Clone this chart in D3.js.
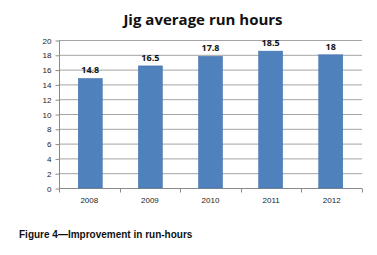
<!DOCTYPE html>
<html><head><meta charset="utf-8">
<script src="https://cdn.jsdelivr.net/npm/d3@7"></script>
<style>body{margin:0;background:#fff}svg{display:block}</style>
</head><body>
<svg id="c" width="377" height="255"></svg>
<script>
const categories = ["2008","2009","2010","2011","2012"];
const values = [14.8, 16.5, 17.8, 18.5, 18];
const valueLabels = ["14.8","16.5","17.8","18.5","18"];
const yTicks = [0,2,4,6,8,10,12,14,16,18,20];
const title = "Jig average run hours";
const caption = "Figure 4\u2014Improvement in run-hours";

const svg = d3.select("#c");
const pLeft = 59, pRight = 362, pTop = 40, pBottom = 188;
const x = d3.scaleBand().domain(categories).range([pLeft, pRight]).paddingInner(0.6).paddingOuter(0.32);
const xb = d3.scaleBand().domain(categories).range([pLeft, pRight]);
const y = d3.scaleLinear().domain([0, 20]).range([pBottom, pTop]);

svg.append("text").attr("x", 203).attr("y", 25).attr("text-anchor","middle")
  .attr("font-family","Open Sans, sans-serif").attr("font-weight","bold").attr("font-size",15)
  .attr("fill","#111").text(title);

// gridlines
svg.append("g").selectAll("line").data(yTicks.filter(d=>d>0)).join("line")
  .attr("x1", pLeft).attr("x2", pRight).attr("y1", d=>y(d)+0.5).attr("y2", d=>y(d)+0.5)
  .attr("stroke","#a3a3a3").attr("stroke-width",1);

// y axis
const ya = svg.append("g").attr("transform",`translate(${pLeft+0.5},0.5)`)
  .call(d3.axisLeft(y).tickValues(yTicks).tickSize(4).tickPadding(4));
ya.select(".domain").attr("stroke","#8a8a8a").attr("d",`M0,${pTop}V${pBottom}`);
ya.selectAll(".tick line").attr("stroke","#8a8a8a");
ya.selectAll("text").attr("font-family","Liberation Sans, Arial, sans-serif").attr("font-size",8).attr("fill","#222");

// x axis
const xa = svg.append("g").attr("transform",`translate(0,${pBottom+0.5})`);
xa.append("line").attr("x1",pLeft).attr("x2",pRight).attr("stroke","#8a8a8a");
xa.selectAll("line.t").data([...categories.map(c=>xb(c)), pRight]).join("line").attr("class","t")
  .attr("x1",d=>Math.round(d)+0.5).attr("x2",d=>Math.round(d)+0.5).attr("y1",0).attr("y2",4).attr("stroke","#8a8a8a");
xa.selectAll("text").data(categories).join("text")
  .attr("x", d=>xb(d)+xb.bandwidth()/2).attr("y", 14).attr("text-anchor","middle")
  .attr("font-family","Liberation Sans, Arial, sans-serif").attr("font-size",8).attr("fill","#222").text(d=>d);

// bars
svg.append("g").selectAll("rect").data(values).join("rect")
  .attr("x",(d,i)=>x(categories[i])).attr("width",x.bandwidth())
  .attr("y",d=>y(d)).attr("height",d=>y(0)-y(d))
  .attr("fill","#4f81bd").attr("stroke","#3f6fa8").attr("stroke-width",0.5);

svg.append("g").selectAll("text").data(values).join("text")
  .attr("x",(d,i)=>x(categories[i])+x.bandwidth()/2).attr("y",d=>y(d)-5)
  .attr("text-anchor","middle").attr("font-family","Open Sans, sans-serif").attr("font-weight","bold")
  .attr("font-size",9).attr("fill","#111").text((d,i)=>valueLabels[i]);

svg.append("text").attr("x",19).attr("y",238)
  .attr("font-family","Liberation Sans, Arial, sans-serif").attr("font-weight","bold").attr("font-size",10)
  .attr("fill","#111").text(caption);
</script>
</body></html>
